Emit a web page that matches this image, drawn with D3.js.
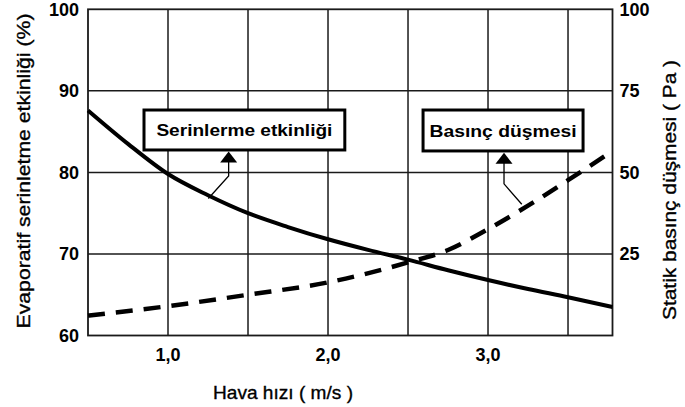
<!DOCTYPE html>
<html>
<head>
<meta charset="utf-8">
<script src="https://d3js.org/d3.v7.min.js"></script>
<style>
  body { margin: 0; background: #fff; }
  svg { display: block; }
  .tick-label { font-family: "Liberation Sans", Arial, sans-serif; font-weight: bold; font-size: 18px; fill: #000; }
  .title { font-family: "Liberation Sans Narrow", "Liberation Sans", Arial, sans-serif; font-size: 18.5px; fill: #000; stroke: #000; stroke-width: 0.35; }
  .box-label { font-family: "Liberation Sans", Arial, sans-serif; font-weight: bold; font-size: 17px; fill: #000; }
</style>
</head>
<body>
<svg></svg>
<script>
// air speed (m/s)
var speedCooling = [0.5, 0.75, 1.0, 1.25, 1.5, 1.75, 2.0, 2.25, 2.5, 2.75, 3.0, 3.25, 3.5, 3.778]
// evaporative cooling efficiency (%)
var cooling = [87.6, 83.5, 79.8, 77.2, 75.0, 73.3, 71.8, 70.5, 69.3, 68.0, 66.8, 65.7, 64.7, 63.5]

var speedPressure = [0.5, 1.0, 1.5, 2.0, 2.5, 2.75, 3.0, 3.25, 3.5, 3.73]
// static pressure drop (Pa)
var pressure = [6.1, 9.0, 12.5, 16.3, 22.4, 26.2, 32.6, 39.8, 47.6, 55.0]

var xTicks = [1.0, 2.0, 3.0]
var xTickLabels = ["1,0", "2,0", "3,0"]
var xGrid = [1.0, 1.5, 2.0, 2.5, 3.0, 3.5]
var leftTicks = [60, 70, 80, 90, 100]
var rightTicks = [25, 50, 75, 100]

var screen = {width: 685, height: 407}
var plot = {left: 88, right: 612.5, top: 9.3, bottom: 335.5}

var svg = d3.select("svg")
  .attr("width", screen.width)
  .attr("height", screen.height)

var x = d3.scaleLinear().domain([0.5, 3.778]).range([plot.left, plot.right])
var yL = d3.scaleLinear().domain([60, 100]).range([plot.bottom, plot.top])
var yR = d3.scaleLinear().domain([0, 100]).range([plot.bottom, plot.top])

var grid = svg.append("g")
  .attr("stroke", "#1a1a1a")
  .attr("stroke-width", 1.5)

grid.selectAll(".v")
  .data(xGrid)
  .enter()
  .append("line")
  .attr("x1", function(d){ return x(d) })
  .attr("x2", function(d){ return x(d) })
  .attr("y1", plot.top)
  .attr("y2", plot.bottom)

grid.selectAll(".h")
  .data([70, 80, 90])
  .enter()
  .append("line")
  .attr("x1", plot.left)
  .attr("x2", plot.right)
  .attr("y1", function(d){ return yL(d) })
  .attr("y2", function(d){ return yL(d) })

grid.append("rect")
  .attr("x", plot.left)
  .attr("y", plot.top)
  .attr("width", plot.right - plot.left)
  .attr("height", plot.bottom - plot.top)
  .attr("fill", "none")
  .attr("stroke-width", 1.8)

// tick labels
svg.append("g").selectAll("text")
  .data(leftTicks)
  .enter()
  .append("text")
  .attr("class", "tick-label")
  .attr("x", plot.left - 9)
  .attr("y", function(d){ return yL(d) })
  .attr("dy", "0.36em")
  .attr("text-anchor", "end")
  .text(function(d){ return d })

svg.append("g").selectAll("text")
  .data(rightTicks)
  .enter()
  .append("text")
  .attr("class", "tick-label")
  .attr("x", plot.right + 7)
  .attr("y", function(d){ return yR(d) })
  .attr("dy", "0.36em")
  .attr("text-anchor", "start")
  .text(function(d){ return d })

svg.append("g").selectAll("text")
  .data(xTicks)
  .enter()
  .append("text")
  .attr("class", "tick-label")
  .attr("x", function(d){ return x(d) })
  .attr("y", 361)
  .attr("text-anchor", "middle")
  .text(function(d, i){ return xTickLabels[i] })

// axis titles
svg.append("text")
  .attr("class", "title")
  .attr("x", 283)
  .attr("y", 399)
  .attr("text-anchor", "middle")
  .attr("textLength", 140)
  .attr("lengthAdjust", "spacingAndGlyphs")
  .text("Hava hızı ( m/s )")

svg.append("text")
  .attr("class", "title")
  .attr("transform", "translate(30,171) rotate(-90)")
  .attr("text-anchor", "middle")
  .attr("textLength", 315)
  .attr("lengthAdjust", "spacingAndGlyphs")
  .text("Evaporatif serinletme etkinliği (%)")

svg.append("text")
  .attr("class", "title")
  .attr("transform", "translate(676,190) rotate(-90)")
  .attr("text-anchor", "middle")
  .attr("textLength", 260)
  .attr("lengthAdjust", "spacingAndGlyphs")
  .text("Statik basınç düşmesi ( Pa )")

// curves
var coolLine = d3.line()
  .x(function(d, i){ return x(speedCooling[i]) })
  .y(function(d){ return yL(d) })
  .curve(d3.curveMonotoneX)

var pressLine = d3.line()
  .x(function(d, i){ return x(speedPressure[i]) })
  .y(function(d){ return yR(d) })
  .curve(d3.curveMonotoneX)

svg.append("path")
  .attr("d", pressLine(pressure))
  .attr("fill", "none")
  .attr("stroke", "#000")
  .attr("stroke-width", 4.5)
  .attr("stroke-dasharray", "17,11")

svg.append("path")
  .attr("d", coolLine(cooling))
  .attr("fill", "none")
  .attr("stroke", "#000")
  .attr("stroke-width", 4)

// callouts (positions in left-axis data units)
var callouts = [
  {label: "Serinlerme etkinliği", x0: 0.85, x1: 2.105, top: 87.65, bottom: 82.75, width: 176,
   tip: [1.379, 82.55], bend: 79.56, end: [1.252, 76.8]},
  {label: "Basınç düşmesi", x0: 2.594, x1: 3.594, top: 87.65, bottom: 82.63, width: 147,
   tip: [3.1, 82.4], bend: 78.6, end: [3.211, 76.1]}
]

callouts.forEach(function(c){
  var g = svg.append("g")
  g.append("rect")
    .attr("x", x(c.x0))
    .attr("y", yL(c.top))
    .attr("width", x(c.x1) - x(c.x0))
    .attr("height", yL(c.bottom) - yL(c.top))
    .attr("fill", "#fff")
    .attr("stroke", "#000")
    .attr("stroke-width", 3)
  g.append("text")
    .attr("class", "box-label")
    .attr("x", (x(c.x0) + x(c.x1)) / 2)
    .attr("y", (yL(c.top) + yL(c.bottom)) / 2)
    .attr("dy", "0.36em")
    .attr("text-anchor", "middle")
    .attr("textLength", c.width)
    .attr("lengthAdjust", "spacingAndGlyphs")
    .text(c.label)
  var tx = x(c.tip[0]), ty = yL(c.tip[1])
  g.append("path")
    .attr("d", "M" + tx + "," + (ty + 5) + "V" + yL(c.bend) + "L" + x(c.end[0]) + "," + yL(c.end[1]))
    .attr("fill", "none")
    .attr("stroke", "#000")
    .attr("stroke-width", 1.3)
  g.append("path")
    .attr("d", "M" + tx + "," + ty + "L" + (tx - 8.5) + "," + (ty + 11) + "L" + (tx + 8.5) + "," + (ty + 11) + "Z")
    .attr("fill", "#000")
})
</script>
</body>
</html>
